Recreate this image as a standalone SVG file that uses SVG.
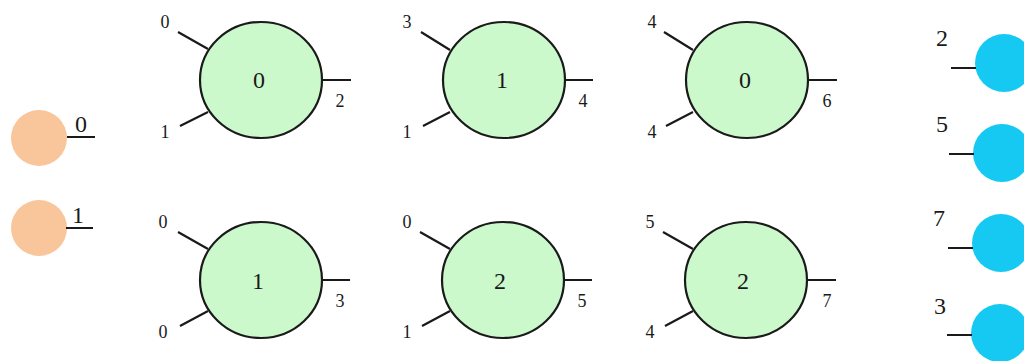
<svg xmlns="http://www.w3.org/2000/svg" width="1024" height="361" viewBox="0 0 1024 361">
<style>
.gate{fill:#ccf9cc;stroke:#1a1a1a;stroke-width:2.2}
.src{fill:#f9c59b}
.dst{fill:#16c9f2}
.w{stroke:#1a1a1a;stroke-width:2.2;fill:none}
.t{font-family:"Liberation Serif","Times New Roman",serif;fill:#1a1a1a;text-anchor:middle}
.s{font-size:18px}
.m{font-size:24px}
.l{font-size:24px}
</style>
<rect width="1024" height="361" fill="#fff"/>
<g id="src0"><circle class="src" cx="39" cy="138" r="28"/></g>
<g id="src1"><circle class="src" cx="39" cy="228" r="28"/></g>
<g id="g00"><ellipse class="gate" cx="261" cy="80" rx="61" ry="58"/><text class="t m" x="259" y="88">0</text></g>
<g id="g01"><ellipse class="gate" cx="504" cy="80" rx="61" ry="58"/><text class="t m" x="502" y="88">1</text></g>
<g id="g02"><ellipse class="gate" cx="747" cy="80" rx="61" ry="58"/><text class="t m" x="745" y="88">0</text></g>
<g id="g10"><ellipse class="gate" cx="261" cy="280" rx="61" ry="58"/><text class="t m" x="258" y="289">1</text></g>
<g id="g11"><ellipse class="gate" cx="503" cy="280" rx="61" ry="58"/><text class="t m" x="500" y="289">2</text></g>
<g id="g12"><ellipse class="gate" cx="746" cy="280" rx="61" ry="58"/><text class="t m" x="743" y="289">2</text></g>
<g id="dst0"><circle class="dst" cx="1004" cy="63" r="29"/></g>
<g id="dst1"><circle class="dst" cx="1002" cy="153" r="29"/></g>
<g id="dst2"><circle class="dst" cx="1001" cy="243" r="29"/></g>
<g id="dst3"><circle class="dst" cx="1000" cy="333" r="29"/></g>
<g id="connectors">
<path class="w" d="M67 137H95M66 228H93"/>
<path class="w" d="M178 32L208 49M180 126L208 112M322 80H351"/>
<path class="w" d="M421 32L450 50M423 126L450 112M565 80H593"/>
<path class="w" d="M664 32L693 50M666 126L693 112M808 80H837"/>
<path class="w" d="M178 232L208 249M180 326L208 311M322 280H350"/>
<path class="w" d="M420 232L450 249M422 326L450 311M564 280H592"/>
<path class="w" d="M663 232L693 249M665 326L693 311M807 280H836"/>
<path class="w" d="M951 68H976M949 154H974M948 248H973M947 335H972"/>
</g>
<g id="labels">
<text class="t l" x="81" y="132">0</text>
<text class="t l" x="78" y="223">1</text>
<text class="t s" x="165" y="28">0</text>
<text class="t s" x="165" y="138">1</text>
<text class="t s" x="340" y="107">2</text>
<text class="t s" x="407" y="28">3</text>
<text class="t s" x="407" y="138">1</text>
<text class="t s" x="583" y="107">4</text>
<text class="t s" x="652" y="28">4</text>
<text class="t s" x="652" y="138">4</text>
<text class="t s" x="827" y="107">6</text>
<text class="t s" x="163" y="228">0</text>
<text class="t s" x="163" y="338">0</text>
<text class="t s" x="340" y="307">3</text>
<text class="t s" x="407" y="228">0</text>
<text class="t s" x="407" y="338">1</text>
<text class="t s" x="582" y="307">5</text>
<text class="t s" x="650" y="228">5</text>
<text class="t s" x="650" y="338">4</text>
<text class="t s" x="827" y="307">7</text>
<text class="t l" x="942" y="46">2</text>
<text class="t l" x="942" y="132">5</text>
<text class="t l" x="939" y="226">7</text>
<text class="t l" x="940" y="314">3</text>
</g>
</svg>
